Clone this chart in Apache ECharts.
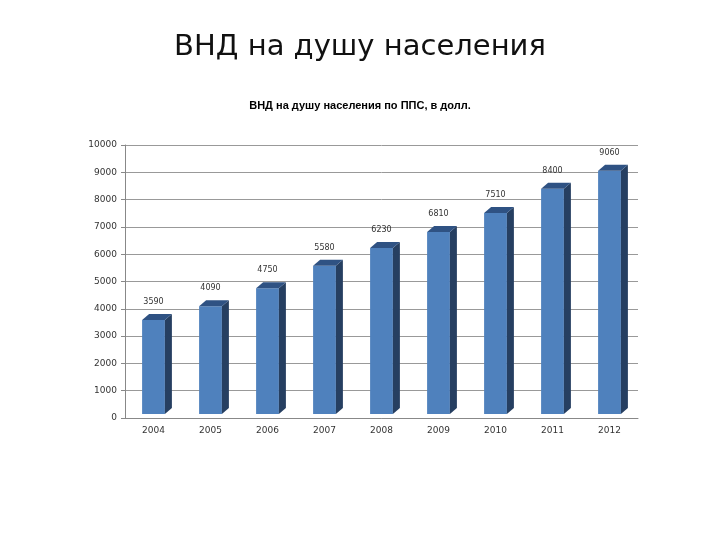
<!DOCTYPE html>
<html><head><meta charset="utf-8">
<script src="https://cdn.jsdelivr.net/npm/echarts@6/dist/echarts.min.js"></script>
<style>html,body{margin:0;background:#fff}#c{width:720px;height:540px}</style>
</head><body><div id="c"></div>
<script>
var categories=['2004','2005','2006','2007','2008','2009','2010','2011','2012'];
var values=[3590,4090,4750,5580,6230,6810,7510,8400,9060];
var yTicks=[0,1000,2000,3000,4000,5000,6000,7000,8000,9000,10000];
var chart=echarts.init(document.getElementById('c'));
var dx=7,dy=6;
chart.setOption({
  animation:false,
  title:[{text:'ВНД на душу населения',left:'center',top:28,textStyle:{fontFamily:'DejaVu Sans',fontSize:29,fontWeight:'normal',color:'#111'}},
         {text:'ВНД на душу населения по ППС, в долл.',left:'center',top:95,textStyle:{fontFamily:'Liberation Sans',fontSize:11,fontWeight:'bold',color:'#000'}}],
  grid:{left:125,right:82,top:145,bottom:122},
  xAxis:{type:'category',data:categories,axisTick:{show:false},axisLine:{lineStyle:{color:'#888'}},
    axisLabel:{fontSize:9,color:'#333',fontFamily:'DejaVu Sans'}},
  yAxis:{type:'value',min:0,max:10000,interval:1000,axisLine:{show:true,lineStyle:{color:'#888'}},
    axisTick:{show:true,length:4},axisLabel:{fontSize:9,color:'#333',fontFamily:'DejaVu Sans',formatter:function(v){return yTicks.indexOf(v)>=0?String(v):'';}},
    splitLine:{lineStyle:{color:'#999'}}},
  series:[{type:'custom',data:values.map(function(v,i){return [i,v];}),
    renderItem:function(params,api){
      var p=api.coord([api.value(0),api.value(1)]);
      var b=api.coord([api.value(0),0]);
      var w=api.size([1,0])[0]*0.4;
      var x0=p[0]-w/2,x1=p[0]+w/2,yt=p[1],yb=b[1]-4;
      return {type:'group',children:[
        {type:'rect',shape:{x:x0,y:yt,width:w,height:yb-yt},style:{fill:'#4F81BD'}},
        {type:'polygon',shape:{points:[[x1,yt],[x1+dx,yt-dy],[x1+dx,yb-dy],[x1,yb]]},style:{fill:'#263F61'}},
        {type:'polygon',shape:{points:[[x0,yt],[x0+dx,yt-dy],[x1+dx,yt-dy],[x1,yt]]},style:{fill:'#2F5283'}},
        {type:'text',style:{text:String(api.value(1)),x:p[0],y:yt-14,align:'center',verticalAlign:'bottom',fontSize:8,fill:'#333',fontFamily:'DejaVu Sans'}}
      ]};
    }}]
});
</script></body></html>
